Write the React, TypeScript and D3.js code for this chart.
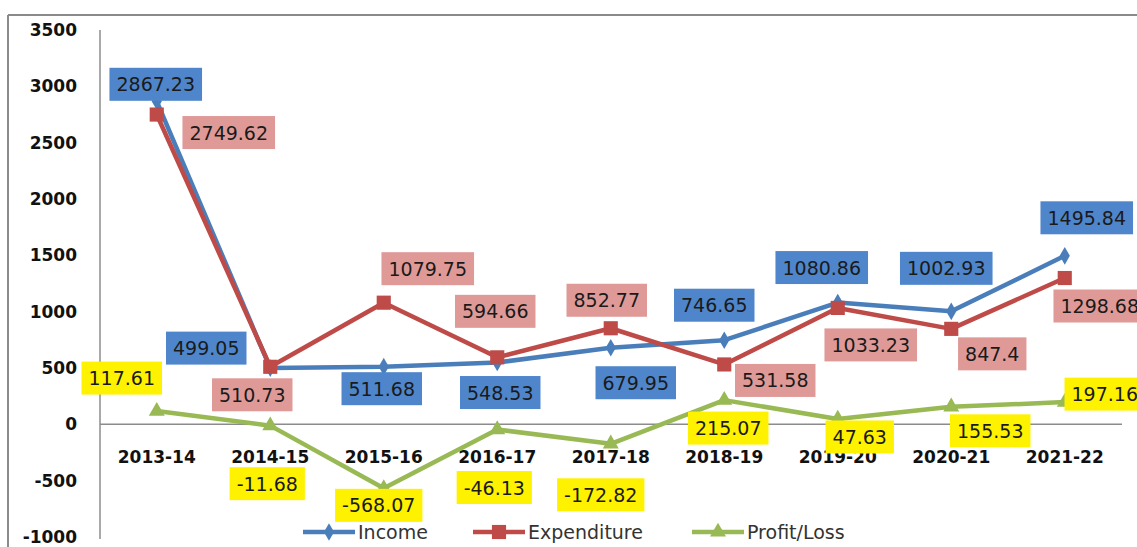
import React, { useEffect, useRef } from "react"
import * as d3 from "d3"

const years = ["2013-14", "2014-15", "2015-16", "2016-17", "2017-18", "2018-19", "2019-20", "2020-21", "2021-22"]
const income = [2867.23, 499.05, 511.68, 548.53, 679.95, 746.65, 1080.86, 1002.93, 1495.84]
const expenditure = [2749.62, 510.73, 1079.75, 594.66, 852.77, 531.58, 1033.23, 847.4, 1298.68]
const profitLoss = [117.61, -11.68, -568.07, -46.13, -172.82, 215.07, 47.63, 155.53, 197.16]
const yTicks = [-1000, -500, 0, 500, 1000, 1500, 2000, 2500, 3000, 3500]

// where each data label sits relative to its point (dx, dy of the box centre)
const incomeLabelPos = [[-1, -17], [-64, -20], [-2, 22], [3, 30], [25, 35], [-10, -35], [-16, -35], [-5, -43], [22, -38]]
const expLabelPos = [[72, 18], [-18, 28], [44, -34], [-2, -46], [-4, -28], [51, 16], [33, 37], [41, 25], [35, 28]]
const profitLabelPos = [[-35, -33], [-3, 58], [-5, 17], [-3, 58], [-10, 51], [4, 28], [22, 18], [39, 24], [40, -8]]

const W = 1137
const H = 547
const FONT = "'DejaVu Sans', Verdana, sans-serif"

function App() {
    const ref = useRef(null)

    useEffect(() => {
        const svg = d3.select(ref.current)
        svg.selectAll("*").remove()

        const x = d3.scaleBand().domain(years).range([100, 1121.5]).padding(0)
        const y = d3.scaleLinear().domain([-1000, 3500]).range([537, 30])
        const cx = (d) => x(d) + x.bandwidth() / 2

        // outer chart frame (cropped)
        svg.append("line").attr("x1", 8).attr("x2", W).attr("y1", 15).attr("y2", 15)
            .attr("stroke", "#8a8a8a").attr("stroke-width", 2)
        svg.append("line").attr("x1", 8).attr("x2", 8).attr("y1", 15).attr("y2", H)
            .attr("stroke", "#8a8a8a").attr("stroke-width", 2)

        // axes
        svg.append("line").attr("x1", 100).attr("x2", 100).attr("y1", y(3500)).attr("y2", 539)
            .attr("stroke", "#8c8c8c").attr("stroke-width", 1.5)
        svg.append("line").attr("x1", 100).attr("x2", 1122).attr("y1", y(0)).attr("y2", y(0))
            .attr("stroke", "#8c8c8c").attr("stroke-width", 1.5)

        svg.append("g").selectAll("text").data(yTicks).join("text")
            .attr("x", 77).attr("y", (d) => y(d))
            .attr("text-anchor", "end").attr("dominant-baseline", "central")
            .attr("font-family", FONT).attr("font-weight", "bold").attr("font-size", 17)
            .attr("fill", "#111").text((d) => d)

        svg.append("g").selectAll("text").data(years).join("text")
            .attr("x", (d) => cx(d)).attr("y", 457)
            .attr("text-anchor", "middle").attr("dominant-baseline", "central")
            .attr("font-family", FONT).attr("font-weight", "bold").attr("font-size", 17)
            .attr("fill", "#111").text((d) => d)

        const series = [
            { name: "Income", values: income, line: "#4a7ebb", box: "#4f86cb", symbol: d3.symbolDiamond, size: 90, pos: incomeLabelPos },
            { name: "Expenditure", values: expenditure, line: "#be4b48", box: "#df9a98", symbol: d3.symbolSquare, size: 200, pos: expLabelPos },
            { name: "Profit/Loss", values: profitLoss, line: "#98b954", box: "#fff200", symbol: d3.symbolTriangle, size: 110, pos: profitLabelPos },
        ]

        const line = d3.line().x((d, i) => cx(years[i])).y((d) => y(d))

        series.forEach((s) => {
            svg.append("path").datum(s.values).attr("d", line)
                .attr("fill", "none").attr("stroke", s.line).attr("stroke-width", 4.5)
                .attr("stroke-linejoin", "round")
            svg.append("g").selectAll("path").data(s.values).join("path")
                .attr("transform", (d, i) => `translate(${cx(years[i])},${y(d)})`)
                .attr("d", d3.symbol().type(s.symbol).size(s.size))
                .attr("fill", s.line)
        })

        // data labels on top
        series.forEach((s) => {
            const g = svg.append("g")
            s.values.forEach((v, i) => {
                const px = cx(years[i]) + s.pos[i][0]
                const py = y(v) + s.pos[i][1]
                const lg = g.append("g")
                const rect = lg.append("rect").attr("fill", s.box)
                const t = lg.append("text").attr("x", px).attr("y", py)
                    .attr("text-anchor", "middle").attr("dominant-baseline", "central")
                    .attr("font-family", FONT).attr("font-size", 19).attr("fill", "#1a1a1a")
                    .text(v)
                const w = t.node().getComputedTextLength() + 14
                rect.attr("x", px - w / 2).attr("y", py - 16.5).attr("width", w).attr("height", 33)
            })
        })

        // legend
        const legendX = [303, 473, 692]
        series.forEach((s, i) => {
            const lx = legendX[i]
            svg.append("line").attr("x1", lx).attr("x2", lx + 52).attr("y1", 532).attr("y2", 532)
                .attr("stroke", s.line).attr("stroke-width", 4.5)
            svg.append("path").attr("transform", `translate(${lx + 26},532)`)
                .attr("d", d3.symbol().type(s.symbol).size(s.size)).attr("fill", s.line)
            svg.append("text").attr("x", lx + 55).attr("y", 532)
                .attr("dominant-baseline", "central")
                .attr("font-family", FONT).attr("font-size", 19).attr("fill", "#333")
                .text(s.name)
        })
    }, [])

    return (
        <svg ref={ref} width={W} height={H}
            style={{ position: "absolute", left: 0, top: 0, display: "block", background: "#fff" }} />
    )
}

export default App
